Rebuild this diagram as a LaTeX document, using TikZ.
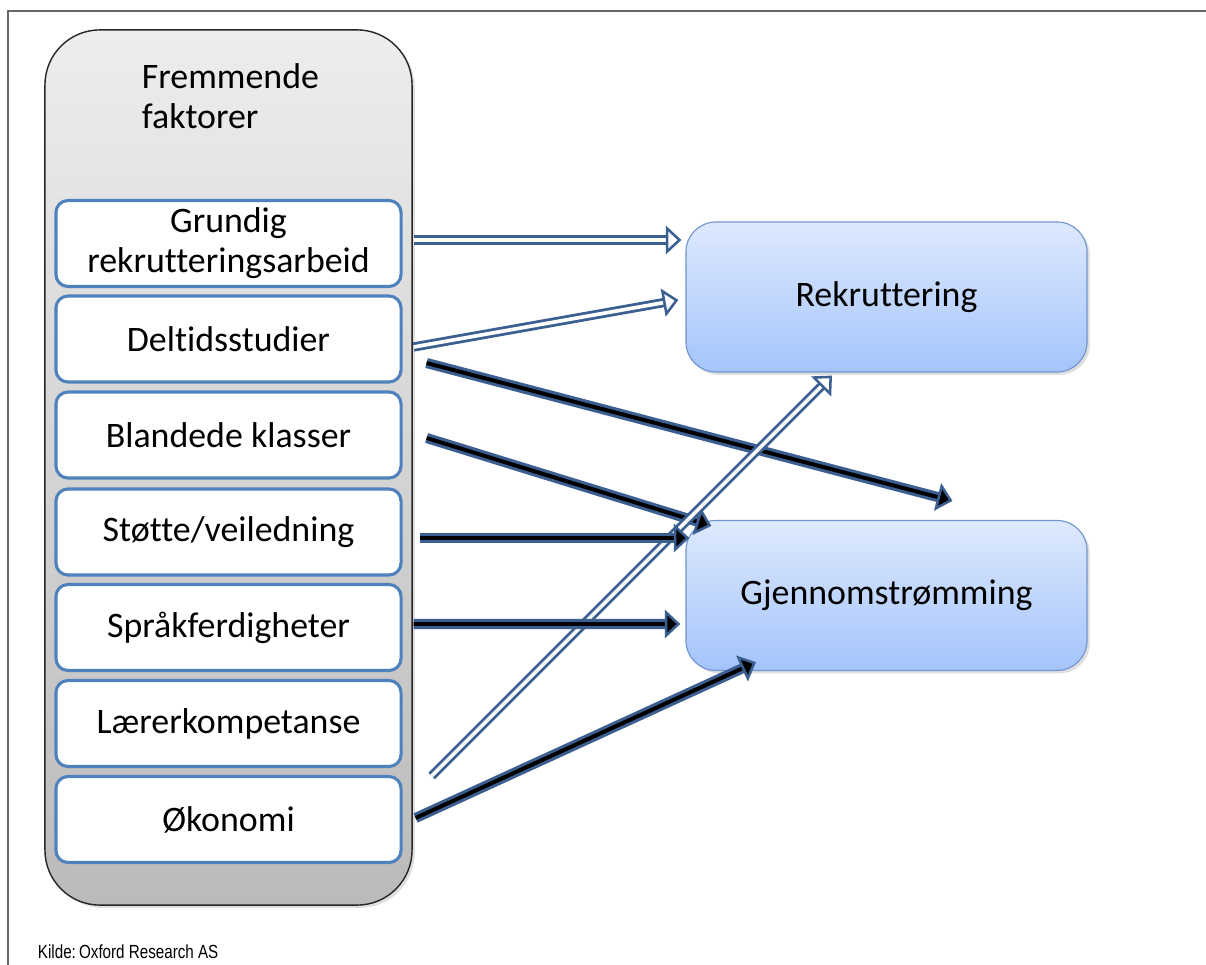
\documentclass[tikz,border=0pt]{standalone}
\usepackage{fontspec}
\setmainfont{Carlito}[Ligatures=NoCommon]
\newfontfamily\kildefont[FakeStretch=0.8]{Liberation Sans}
\usetikzlibrary{calc,arrows.meta,shadows}
\definecolor{arrowblue}{RGB}{60,95,145}
\definecolor{boxblue}{RGB}{79,129,189}
\definecolor{rightedge}{RGB}{112,149,208}
\definecolor{righttop}{RGB}{222,233,253}
\definecolor{rightbot}{RGB}{164,196,251}
\tikzset{
  factor/.style={draw=boxblue, line width=2.2pt, fill=white, rounded corners=0.3cm,
    minimum width=8.625cm, minimum height=2.15cm, inner sep=0pt},
  effect/.style={draw=rightedge, line width=0.8pt, rounded corners=0.75cm,
    top color=righttop, bottom color=rightbot,
    minimum width=10.025cm, minimum height=3.75cm,
    drop shadow={opacity=0.25, shadow xshift=2pt, shadow yshift=-2pt}},
  hollow/.style={draw=arrowblue, line width=2pt, double=white, double distance=2.6pt,
    -{Triangle[open, length=11pt, width=20pt, line width=1.8pt]}},
  solid/.style={draw=arrowblue, line width=2.2pt, double=black, double distance=2.8pt,
    -{Triangle[length=11pt, width=20pt, line width=1.8pt, fill=black]}}
}
\begin{document}
\begin{tikzpicture}[x=0.025cm, y=-0.025cm,
  every node/.style={font=\fontsize{25.5}{28.5}\selectfont, align=center}]
  \useasboundingbox (0,0) rectangle (1206,965);
  \draw[black!60, line width=1.5pt] (8,965) -- (8,11) -- (1206,11);
  \node[draw=black!85, line width=1pt, rounded corners=1.375cm, top color=black!7,
    bottom color=black!27, minimum width=9.175cm, minimum height=21.875cm,
    drop shadow={opacity=0.25, shadow xshift=2pt, shadow yshift=-2pt}] (ff) at (228.5,467.5) {};
  \node[anchor=north west, align=left] (ti) at (137,59) {Fremmende\\faktorer};
  \node[factor] (gr) at (228.5,243.5) {Grundig\\rekrutteringsarbeid};
  \node[factor] (dt) at (228.5,339) {Deltidsstudier};
  \node[factor] (bk) at (228.5,435) {Blandede klasser};
  \node[factor] (st) at (228.5,532) {Støtte/veiledning};
  \node[factor] (sp) at (228.5,627.5) {Språkferdigheter};
  \node[factor] (lk) at (228.5,723.5) {Lærerkompetanse};
  \node[factor] (ok) at (228.5,819.5) {Økonomi};
  \node[effect] (rk) at (886.5,297) {Rekruttering};
  \node[effect] (gj) at (886.5,595.5) {Gjennomstrømming};
  \node[anchor=base west, font=\kildefont\fontsize{13.5}{15}\selectfont] (kilde) at (33,958) {Kilde:\,Oxford Research AS};
  \draw[hollow] ($(gr.east)+(11,-3.5)$) -- ($(rk.west)+(-4,-57)$);
  \draw[hollow] ($(dt.east)+(11,8)$) -- ($(rk.west)+(-7,3)$);
  \draw[solid] ($(dt.east)+(24,24)$) -- ($(gj.north)+(66,-19)$);
  \draw[solid] ($(bk.east)+(24,3)$) -- ($(gj.north west)+(26,6)$);
  \draw[hollow] ($(ok.east)+(29,-43.5)$) -- ($(rk.south)+(-54.5,3)$);
  \draw[solid] ($(st.east)+(17,6)$) -- ($(gj.west)+(4,-57.5)$);
  \draw[solid] ($(sp.east)+(11,-3.5)$) -- ($(gj.west)+(-5,28.5)$);
  \draw[solid] ($(ok.east)+(13,-1.5)$) -- ($(gj.south)+(-130.5,-9)$);
\end{tikzpicture}
\end{document}
